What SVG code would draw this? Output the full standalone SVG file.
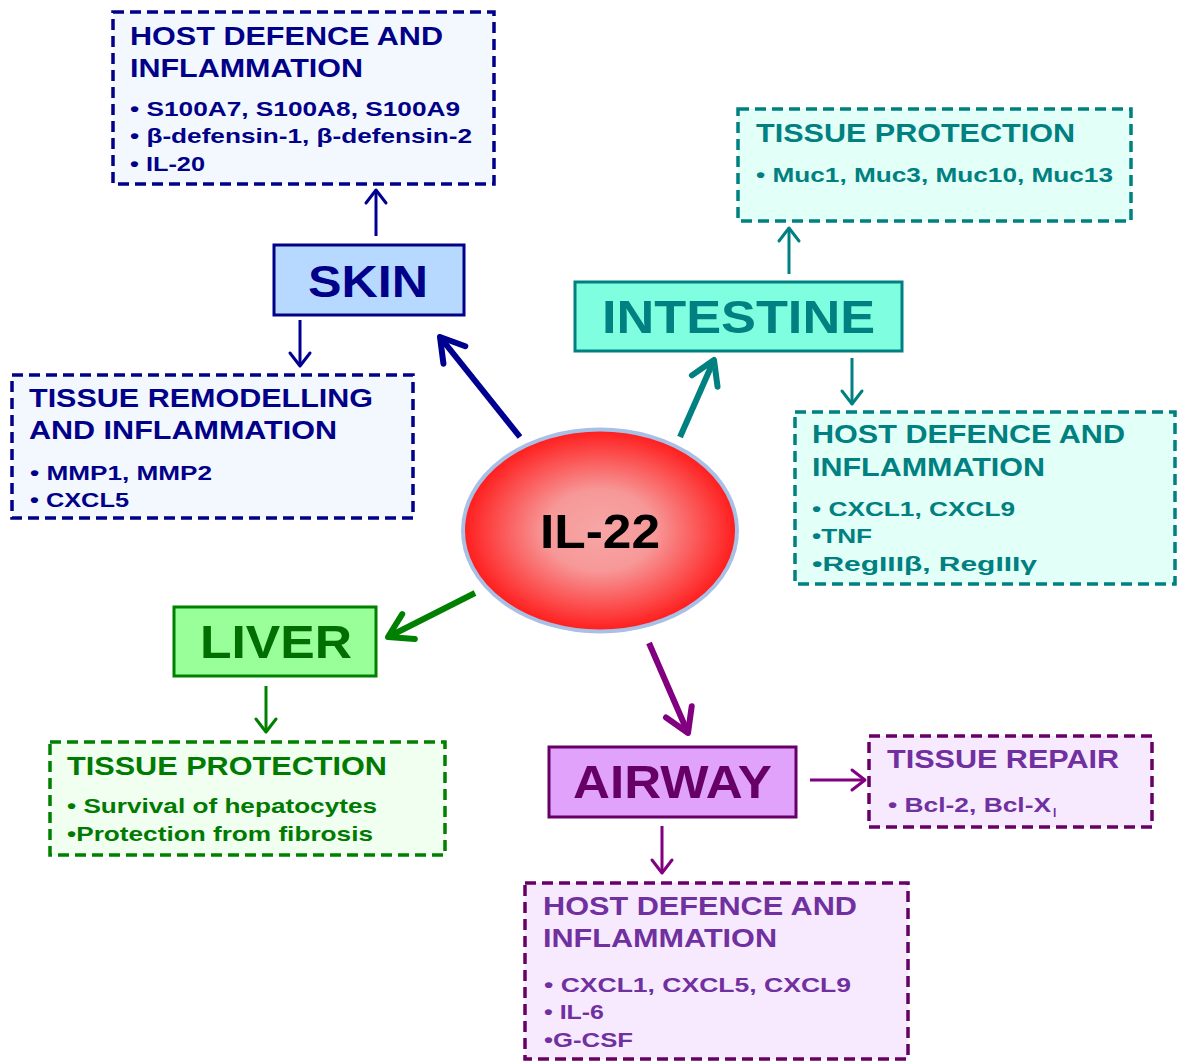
<svg xmlns="http://www.w3.org/2000/svg" width="1177" height="1061" viewBox="0 0 1177 1061">
<style>
text{font-family:"Liberation Sans",Arial,sans-serif;font-weight:bold}
.t{font-size:25.5px}
.b{font-size:20.5px}
.node{font-size:46px}
.dash{stroke-width:3.5;stroke-dasharray:11 6}
.nb{stroke-width:3}
.navy{fill:#000088}
.teal{fill:#008080}
.green{fill:#007A00}
.purp{fill:#7030A0}
</style>
<defs>
<radialGradient id="redg" cx="0.5" cy="0.5" r="0.5">
<stop offset="0" stop-color="#F7A6A6"/>
<stop offset="0.4" stop-color="#F79898"/>
<stop offset="1" stop-color="#FF1C1C"/>
</radialGradient>
<marker id="sNavy" viewBox="0 0 16 22" refX="14" refY="11" markerWidth="16" markerHeight="22" markerUnits="userSpaceOnUse" orient="auto" overflow="visible"><path d="M1,1 L14,11 L1,21" fill="none" stroke="#000090" stroke-width="3" stroke-linecap="round" stroke-linejoin="round"/></marker>
<marker id="sTeal" viewBox="0 0 16 22" refX="14" refY="11" markerWidth="16" markerHeight="22" markerUnits="userSpaceOnUse" orient="auto" overflow="visible"><path d="M1,1 L14,11 L1,21" fill="none" stroke="#008080" stroke-width="3" stroke-linecap="round" stroke-linejoin="round"/></marker>
<marker id="sGreen" viewBox="0 0 16 22" refX="14" refY="11" markerWidth="16" markerHeight="22" markerUnits="userSpaceOnUse" orient="auto" overflow="visible"><path d="M1,1 L14,11 L1,21" fill="none" stroke="#008000" stroke-width="3" stroke-linecap="round" stroke-linejoin="round"/></marker>
<marker id="sPurp" viewBox="0 0 16 22" refX="14" refY="11" markerWidth="16" markerHeight="22" markerUnits="userSpaceOnUse" orient="auto" overflow="visible"><path d="M1,1 L14,11 L1,21" fill="none" stroke="#800080" stroke-width="3" stroke-linecap="round" stroke-linejoin="round"/></marker>
<marker id="bNavy" viewBox="0 0 30 32" refX="26" refY="16" markerWidth="30" markerHeight="32" markerUnits="userSpaceOnUse" orient="auto" overflow="visible"><path d="M3,2 L26,16 L3,30" fill="none" stroke="#000090" stroke-width="6" stroke-linecap="round" stroke-linejoin="round"/></marker>
<marker id="bTeal" viewBox="0 0 30 32" refX="26" refY="16" markerWidth="30" markerHeight="32" markerUnits="userSpaceOnUse" orient="auto" overflow="visible"><path d="M3,2 L26,16 L3,30" fill="none" stroke="#008080" stroke-width="6" stroke-linecap="round" stroke-linejoin="round"/></marker>
<marker id="bGreen" viewBox="0 0 30 32" refX="26" refY="16" markerWidth="30" markerHeight="32" markerUnits="userSpaceOnUse" orient="auto" overflow="visible"><path d="M3,2 L26,16 L3,30" fill="none" stroke="#008000" stroke-width="6" stroke-linecap="round" stroke-linejoin="round"/></marker>
<marker id="bPurp" viewBox="0 0 30 32" refX="26" refY="16" markerWidth="30" markerHeight="32" markerUnits="userSpaceOnUse" orient="auto" overflow="visible"><path d="M3,2 L26,16 L3,30" fill="none" stroke="#800080" stroke-width="6" stroke-linecap="round" stroke-linejoin="round"/></marker>
</defs>
<rect width="1177" height="1061" fill="#FFFFFF"/>

<g id="connectors" fill="none">
<path d="M376,236 L376,190" stroke="#000090" stroke-width="3" marker-end="url(#sNavy)"/>
<path d="M300,320 L300,366" stroke="#000090" stroke-width="3" marker-end="url(#sNavy)"/>
<path d="M789,274 L789,228" stroke="#008080" stroke-width="3" marker-end="url(#sTeal)"/>
<path d="M852,358 L852,404" stroke="#008080" stroke-width="3" marker-end="url(#sTeal)"/>
<path d="M266,686 L266,732" stroke="#008000" stroke-width="3" marker-end="url(#sGreen)"/>
<path d="M810,780 L865,780" stroke="#800080" stroke-width="3" marker-end="url(#sPurp)"/>
<path d="M662,826 L662,873" stroke="#800080" stroke-width="3" marker-end="url(#sPurp)"/>
<path d="M520,437 L440,337" stroke="#000090" stroke-width="6" marker-end="url(#bNavy)"/>
<path d="M680,437 L714,360" stroke="#008080" stroke-width="6" marker-end="url(#bTeal)"/>
<path d="M475,593 L388,637" stroke="#008000" stroke-width="6" marker-end="url(#bGreen)"/>
<path d="M649,643 L688,733" stroke="#800080" stroke-width="6" marker-end="url(#bPurp)"/>
</g>

<g id="il22">
<ellipse cx="600" cy="530.5" rx="137" ry="101" fill="url(#redg)" stroke="#A9C0E6" stroke-width="4"/>
<text x="540" y="548" font-size="48" fill="#000000" textLength="120" lengthAdjust="spacingAndGlyphs">IL-22</text>
</g>

<g id="skin">
<rect x="274" y="245" width="190" height="70" fill="#B8D9FF" stroke="#000088" class="nb"/>
<text x="308" y="297" font-size="44" class="navy" textLength="120" lengthAdjust="spacingAndGlyphs">SKIN</text>
</g>

<g id="skin-host-defence">
<rect x="113" y="12" width="381" height="172" fill="#F3F8FF" stroke="#000088" class="dash"/>
<text x="130" y="45" class="t navy" textLength="313" lengthAdjust="spacingAndGlyphs">HOST DEFENCE AND</text>
<text x="130" y="77" class="t navy" textLength="233" lengthAdjust="spacingAndGlyphs">INFLAMMATION</text>
<text x="130" y="116" class="b navy" textLength="330" lengthAdjust="spacingAndGlyphs">• S100A7, S100A8, S100A9</text>
<text x="130" y="143" class="b navy" textLength="342" lengthAdjust="spacingAndGlyphs">• β-defensin-1, β-defensin-2</text>
<text x="130" y="171" class="b navy" textLength="75" lengthAdjust="spacingAndGlyphs">• IL-20</text>
</g>

<g id="skin-remodelling">
<rect x="12" y="375" width="401" height="143" fill="#F3F8FF" stroke="#000088" class="dash"/>
<text x="29" y="407" class="t navy" textLength="344" lengthAdjust="spacingAndGlyphs">TISSUE REMODELLING</text>
<text x="29" y="439" class="t navy" textLength="308" lengthAdjust="spacingAndGlyphs">AND INFLAMMATION</text>
<text x="30" y="480" class="b navy" textLength="182" lengthAdjust="spacingAndGlyphs">• MMP1, MMP2</text>
<text x="30" y="507" class="b navy" textLength="99" lengthAdjust="spacingAndGlyphs">• CXCL5</text>
</g>

<g id="intestine">
<rect x="575" y="282" width="327" height="69" fill="#80FFE0" stroke="#008080" class="nb"/>
<text x="602" y="333" class="node teal" textLength="273" lengthAdjust="spacingAndGlyphs">INTESTINE</text>
</g>

<g id="intestine-protection">
<rect x="738" y="109" width="393" height="112" fill="#E2FFF8" stroke="#008080" class="dash"/>
<text x="756" y="142" class="t teal" textLength="319" lengthAdjust="spacingAndGlyphs">TISSUE PROTECTION</text>
<text x="756" y="182" class="b teal" textLength="357" lengthAdjust="spacingAndGlyphs">• Muc1, Muc3, Muc10, Muc13</text>
</g>

<g id="intestine-host-defence">
<rect x="795" y="412" width="380" height="172" fill="#E2FFF8" stroke="#008080" class="dash"/>
<text x="812" y="443" class="t teal" textLength="313" lengthAdjust="spacingAndGlyphs">HOST DEFENCE AND</text>
<text x="812" y="476" class="t teal" textLength="233" lengthAdjust="spacingAndGlyphs">INFLAMMATION</text>
<text x="812" y="516" class="b teal" textLength="203" lengthAdjust="spacingAndGlyphs">• CXCL1, CXCL9</text>
<text x="812" y="543" class="b teal" textLength="60" lengthAdjust="spacingAndGlyphs">•TNF</text>
<text x="812" y="571" class="b teal" textLength="225" lengthAdjust="spacingAndGlyphs">•RegIIIβ, RegIIIγ</text>
</g>

<g id="liver">
<rect x="174" y="607" width="202" height="69" fill="#99FF99" stroke="#008000" class="nb"/>
<text x="200" y="658" class="node" fill="#006E00" textLength="152" lengthAdjust="spacingAndGlyphs">LIVER</text>
</g>

<g id="liver-protection">
<rect x="50" y="742" width="395" height="113" fill="#F0FFF0" stroke="#008000" class="dash"/>
<text x="67" y="775" class="t green" textLength="320" lengthAdjust="spacingAndGlyphs">TISSUE PROTECTION</text>
<text x="67" y="813" class="b green" textLength="310" lengthAdjust="spacingAndGlyphs">• Survival of hepatocytes</text>
<text x="67" y="841" class="b green" textLength="306" lengthAdjust="spacingAndGlyphs">•Protection from fibrosis</text>
</g>

<g id="airway">
<rect x="549" y="747" width="247" height="70" fill="#E0A2FA" stroke="#660066" class="nb"/>
<text x="573" y="798" class="node" fill="#660066" textLength="199" lengthAdjust="spacingAndGlyphs">AIRWAY</text>
</g>

<g id="airway-repair">
<rect x="869" y="736" width="283" height="91" fill="#F8EAFE" stroke="#660066" class="dash"/>
<text x="887" y="768" class="t purp" textLength="232" lengthAdjust="spacingAndGlyphs">TISSUE REPAIR</text>
<text x="888" y="812" class="b purp" textLength="163" lengthAdjust="spacingAndGlyphs">• Bcl-2, Bcl-X</text>
<text x="1053" y="817" font-size="12" class="purp">l</text>
</g>

<g id="airway-host-defence">
<rect x="525" y="883" width="383" height="176" fill="#F8EAFE" stroke="#660066" class="dash"/>
<text x="543" y="915" class="t purp" textLength="314" lengthAdjust="spacingAndGlyphs">HOST DEFENCE AND</text>
<text x="543" y="947" class="t purp" textLength="234" lengthAdjust="spacingAndGlyphs">INFLAMMATION</text>
<text x="544" y="992" class="b purp" textLength="307" lengthAdjust="spacingAndGlyphs">• CXCL1, CXCL5, CXCL9</text>
<text x="544" y="1019" class="b purp" textLength="60" lengthAdjust="spacingAndGlyphs">• IL-6</text>
<text x="544" y="1047" class="b purp" textLength="89" lengthAdjust="spacingAndGlyphs">•G-CSF</text>
</g>
</svg>
